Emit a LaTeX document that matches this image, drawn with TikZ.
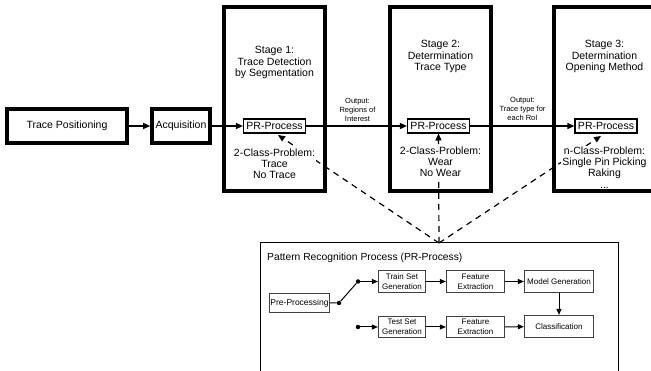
\documentclass[tikz,border=0pt]{standalone}
\usepackage{fontspec}
\setmainfont{Liberation Sans}
\usetikzlibrary{arrows.meta}

\begin{document}
\begin{tikzpicture}[x=1pt,y=-1pt,
  heavybox/.style={draw, line width=3.6pt, inner sep=0pt,
    font=\fontsize{10.5}{12}\selectfont},
  stagebox/.style={heavybox, minimum width=101pt, minimum height=184pt},
  prnode/.style={draw, line width=1.2pt, minimum width=62pt, minimum height=14pt,
    inner sep=0pt, font=\fontsize{10.5}{12}\selectfont},
  flow/.style={line width=1.2pt, -{Triangle[length=7pt,width=6pt]}},
  stagetext/.style={align=center, inner sep=1pt, font=\fontsize{10.5}{11.2}\selectfont},
  classtext/.style={stagetext, fill=white},
  outlabel/.style={align=center, inner sep=0pt, font=\fontsize{7.5}{9}\selectfont},
  guide/.style={line width=1.2pt, dash pattern=on 6pt off 5pt,
    -{Triangle[length=7pt,width=6pt]}},
  procbox/.style={draw=black!75, line width=1.2pt, inner sep=0pt, align=center,
    font=\fontsize{8}{10}\selectfont},
  subflow/.style={line width=1pt, -{Triangle[length=6pt,width=5pt]}},
  junction/.style={circle, fill, inner sep=0pt, minimum size=4.5pt}
]
\useasboundingbox (0,0) rectangle (651,371);
\clip (0,0) rectangle (651,371);

% acquisition chain
\node[heavybox, minimum width=120pt, minimum height=34pt] (pos) at (67,126) {Trace Positioning};
\node[heavybox, minimum width=58pt, minimum height=34pt] (acq) at (181,126) {Acquisition};

% the three stages
\node[stagebox] (s1) at (274.5,99) {};
\node[stagebox] (s2) at (440.5,99) {};
\node[stagebox] (s3) at (604.5,99) {};

\node[prnode] (pr1) at (274.5,126) {PR-Process};
\node[prnode] (pr2) at (438.5,126) {PR-Process};
\node[prnode] (pr3) at (606,126) {PR-Process};

\node[stagetext] (h1) at (274.5,62.5) {Stage 1:\\Trace Detection\\by Segmentation};
\node[stagetext] (h2) at (440.5,56.5) {Stage 2:\\Determination\\Trace Type};
\node[stagetext] (h3) at (604.5,56.5) {Stage 3:\\Determination\\Opening Method};

\draw[flow] (pos) -- (acq);
\draw[flow] (acq) -- (pr1);
\draw[flow] (pr1) -- (pr2);
\draw[flow] (pr2) -- (pr3);

\node[outlabel] (o1) at (357.5,109.5) {Output:\\Regions of\\Interest};
\node[outlabel] (o2) at (522.5,108.5) {Output:\\Trace type for\\each RoI};

% pattern recognition process
\node[draw, line width=1pt, minimum width=358pt, minimum height=160pt, inner sep=0pt,
  anchor=north west] (prp) at (259.5,242.5) {};
\coordinate (conv) at (439,243);

\draw[guide] (conv) -- (278,135);
\draw[guide] (conv) -- (438.5,133.5);
\draw[guide] (conv) -- (601,136);

\node[classtext] (c1) at (274.5,163.5) {2-Class-Problem:\\Trace\\No Trace};
\node[classtext] (c2) at (440.5,161.5) {2-Class-Problem:\\Wear\\No Wear};
\node[classtext] (c3) at (604.5,167.5) {n-Class-Problem:\\Single Pin Picking\\Raking\\...};

\node[anchor=west, inner sep=0pt, font=\fontsize{10.3}{12}\selectfont] (title) at (267,258)
  {Pattern Recognition Process (PR-Process)};

\node[procbox, minimum width=60pt, minimum height=19pt, font=\fontsize{8.5}{10}\selectfont]
  (pre) at (299.5,303) {Pre-Processing};
\node[procbox, minimum width=47pt, minimum height=22pt] (train) at (402,281.5) {Train Set\\Generation};
\node[procbox, minimum width=58pt, minimum height=22pt] (feat1) at (475.5,281.5) {Feature\\Extraction};
\node[procbox, minimum width=69pt, minimum height=22pt] (model) at (559,281.5) {Model Generation};
\node[procbox, minimum width=47pt, minimum height=21pt] (test) at (402,327) {Test Set\\Generation};
\node[procbox, minimum width=58pt, minimum height=21pt] (feat2) at (475.5,327) {Feature\\Extraction};
\node[procbox, minimum width=69pt, minimum height=22pt] (cls) at (559,326.5) {Classification};

\node[junction] (j0) at (339,303) {};
\node[junction] (j1) at (358,281.5) {};
\node[junction] (j2) at (358,327) {};

\draw[line width=1pt] (pre) -- (j0) -- (j1);
\draw[subflow] (j1) -- (train);
\draw[subflow] (j2) -- (test);
\draw[subflow] (train) -- (feat1);
\draw[subflow] (feat1) -- (model);
\draw[subflow] (model) -- (cls);
\draw[subflow] (test) -- (feat2);
\draw[subflow] (feat2) -- (cls);
\end{tikzpicture}
\end{document}
